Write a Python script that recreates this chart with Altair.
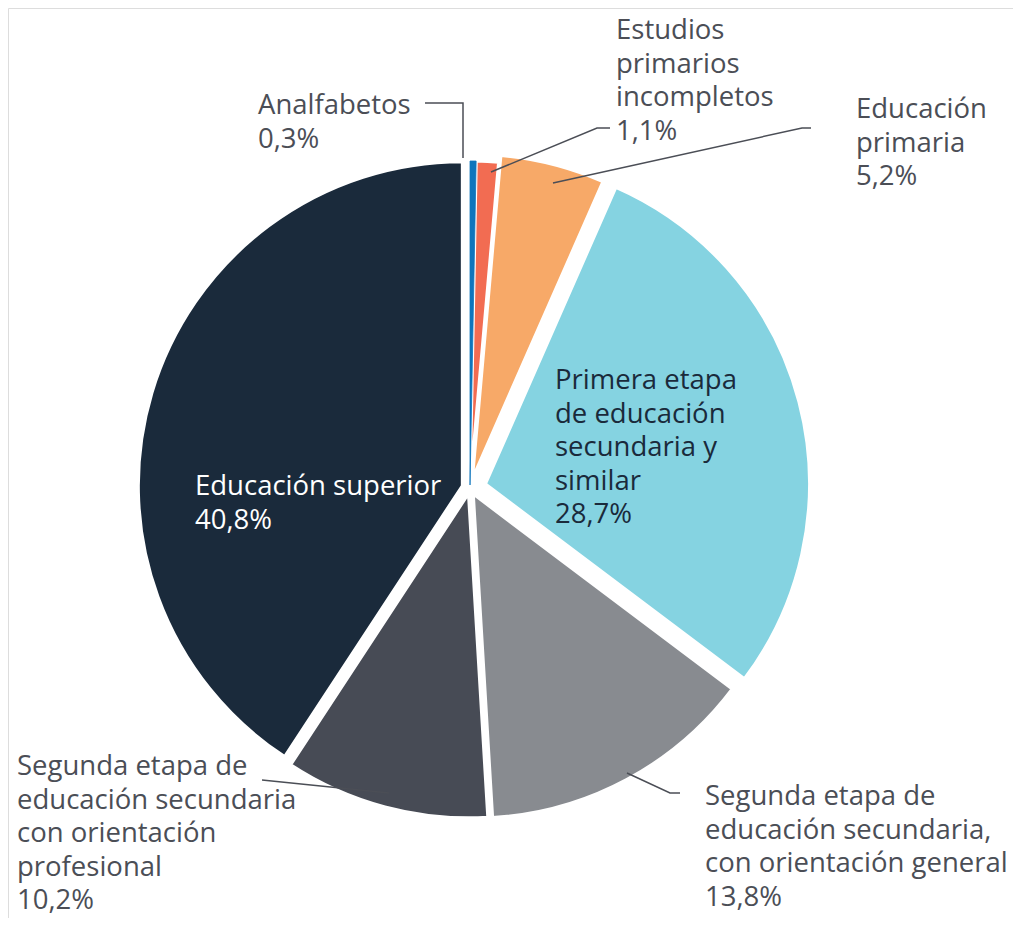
import math
import altair as alt
import pandas as pd

# ---- data ----
categories = [
    "Analfabetos",
    "Estudios primarios incompletos",
    "Educación primaria",
    "Primera etapa de educación secundaria y similar",
    "Segunda etapa de educación secundaria, con orientación general",
    "Segunda etapa de educación secundaria con orientación profesional",
    "Educación superior",
]
values = [0.3, 1.1, 5.2, 28.7, 13.8, 10.2, 40.8]
value_labels = ["0,3%", "1,1%", "5,2%", "28,7%", "13,8%", "10,2%", "40,8%"]
label_texts = [
    "Analfabetos",
    "Estudios\nprimarios\nincompletos",
    "Educación\nprimaria",
    "Primera etapa\nde educación\nsecundaria y\nsimilar",
    "Segunda etapa de\neducación secundaria,\ncon orientación general",
    "Segunda etapa de\neducación secundaria\ncon orientación\nprofesional",
    "Educación superior",
]
colors = ["#0f75bc", "#f26c52", "#f7a968", "#85d3e1", "#888b90", "#474b55", "#1a2a3b"]

# ---- layout / style (pixels, chart coordinates) ----
W, H = 1005, 910
CX, CY, R = 462, 480, 324
explode = [3, 3, 10, 16, 7, 6, 8]
FS = 27.5
LH = 33.5
label_pos = [
    (250, 84), (608, 9), (848, 88), (547, 359), (697, 775), (9, 745), (187, 465)
]
label_colors = ["#4b4e56", "#4b4e56", "#4b4e56", "#1a2a3b", "#4b4e56", "#4b4e56", "#ffffff"]
leaders = {
    0: [(417, 95), (455, 95), (455, 150)],
    1: [(602, 120), (589, 120), (483, 164)],
    2: [(803, 120), (794, 120), (545, 175)],
    4: [(672, 785), (662, 785), (619, 765)],
    5: [(254, 772), (381, 785)],
}

total = sum(values)
starts, ends, cxs, cys = [], [], [], []
acc = 0.0
for v, e in zip(values, explode):
    s, t = acc, acc + v
    acc = t
    mid = 2 * math.pi * (s + t) / 2 / total
    starts.append(s)
    ends.append(t)
    cxs.append(CX + e * math.sin(mid))
    cys.append(CY - e * math.cos(mid))

pie_df = pd.DataFrame({
    "cat": categories,
    "value": values,
    "start": starts,
    "end": ends,
    "cx": cxs,
    "cy": cys,
    "idx": list(range(len(categories))),
})

lab_df = pd.DataFrame({
    "text": [t + "\n" + v for t, v in zip(label_texts, value_labels)],
    "x": [p[0] for p in label_pos],
    "y": [p[1] for p in label_pos],
    "col": label_colors,
})

rows = []
for k, pts in leaders.items():
    for j, (px, py) in enumerate(pts):
        rows.append({"g": k, "o": j, "x": px, "y": py})
lead_df = pd.DataFrame(rows)

xs = alt.Scale(domain=[0, W], range=[0, W])
ys = alt.Scale(domain=[0, H], range=[0, H])
ts = alt.Scale(domain=[0, total], range=[0, 2 * math.pi])
color_scale = alt.Scale(domain=categories, range=colors)

base = alt.Chart(pie_df).encode(
    theta=alt.Theta("start:Q", scale=ts),
    theta2="end:Q",
    color=alt.Color("cat:N", scale=color_scale, legend=None),
    x=alt.X("cx:Q", scale=xs, axis=None),
    y=alt.Y("cy:Q", scale=ys, axis=None),
)

pie = base.mark_arc(radius=R, stroke="white", strokeWidth=3)

pie_top = base.mark_arc(radius=R, stroke="#0f75bc", strokeWidth=0.8).transform_filter(
    alt.datum.idx == 0
)

lines = alt.Chart(lead_df).mark_line(color="#4b4e56", strokeWidth=1.5).encode(
    x=alt.X("x:Q", scale=xs, axis=None),
    y=alt.Y("y:Q", scale=ys, axis=None),
    detail="g:N",
    order="o:Q",
)

texts = alt.Chart(lab_df).mark_text(
    align="left", baseline="top", fontSize=FS, font="Open Sans",
    lineBreak="\n", lineHeight=LH
).encode(
    x=alt.X("x:Q", scale=xs, axis=None),
    y=alt.Y("y:Q", scale=ys, axis=None),
    text="text:N",
    color=alt.Color("col:N", scale=None),
)

chart = alt.layer(pie, pie_top, lines, texts).properties(
    width=W, height=H, padding=0, autosize=alt.AutoSizeParams(type="none")
).configure_view(strokeWidth=0).configure(background="white")

chart.save("out.html", embed_options={"renderer": "svg", "actions": False})
